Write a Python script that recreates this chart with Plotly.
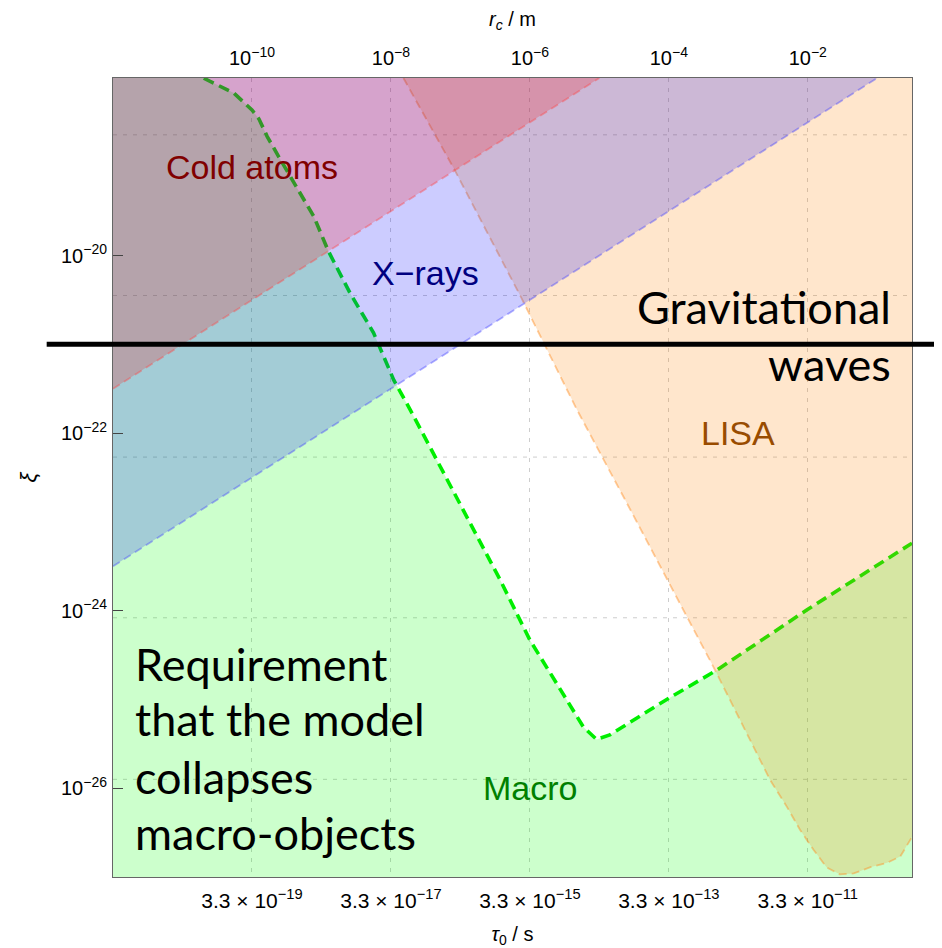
import math
import plotly.graph_objects as go

# ---------------- data (log10 values) ----------------
SPEED_OF_LIGHT = 2.998e8          # tau_0 = r_c / c

rc_tick_exp = [-10, -8, -6, -4, -2]
tau_tick_mantissa = "3.3"
tau_tick_exp = [-19, -17, -15, -13, -11]
xi_tick_exp = [-20, -22, -24, -26]

# Cold atoms bound (region above the line)
cold_log_rc = [-12.0, -5.0]
cold_log_xi = [-21.5, -18.0]

# X-ray bound (region above the line)
xray_log_rc = [-12.0, -1.0]
xray_log_xi = [-23.5, -18.0]

# LISA bound (region to the right of the curve)
lisa_log_rc = [-7.82, -7.10, -6.12, -5.32, -4.63, -3.36, -2.54, -2.30, -2.11,
               -1.92, -1.73, -1.54, -1.34, -1.10, -0.86, -0.67, -0.50]
lisa_log_xi = [-18.00, -19.01, -20.48, -21.74, -22.75, -24.63, -25.91, -26.21, -26.47,
               -26.69, -26.89, -26.97, -26.96, -26.89, -26.84, -26.77, -26.55]

# Macro requirement (region below the curve)
macro_log_rc = [-10.90, -10.70, -10.26, -10.00, -9.90, -9.78, -9.59, -9.40, -9.11,
                -8.90, -8.59, -8.25, -7.96, -7.72, -6.43, -6.00, -5.56, -5.23,
                -5.04, -4.85, -4.03, -3.31, -2.01, -0.50]
macro_log_xi = [-17.90, -18.00, -18.17, -18.36, -18.46, -18.66, -18.92, -19.18, -19.56,
                -19.95, -20.42, -20.87, -21.40, -21.74, -23.65, -24.33, -24.89, -25.31,
                -25.45, -25.40, -25.00, -24.67, -23.99, -23.24]

# Gravitational-wave bound
gw_log_xi = -21.0

region_names = ["Cold atoms", "X\u2212rays", "LISA", "Macro"]
region_label_log_rc = [-10.0, -7.5, -3.0, -6.0]
region_label_log_xi = [-19.0, -20.2, -22.0, -26.0]

# ---------------- helpers ----------------
RC_RANGE = [-12.0, -0.5]
XI_RANGE = [-27.0, -18.0]
LOG_C = math.log10(SPEED_OF_LIGHT)


def pw(vals, shift=0.0):
    return [10 ** (v - shift) for v in vals]


fig = go.Figure()


def add_region(line_rc, line_xi, extra_rc, extra_xi, fill, line_color, line_width, dash,
               xaxis="x", shift=0.0):
    fig.add_trace(go.Scatter(
        x=pw(line_rc + extra_rc, shift), y=pw(line_xi + extra_xi),
        mode="lines", fill="toself", fillcolor=fill,
        line=dict(width=0, color="rgba(0,0,0,0)"),
        hoverinfo="skip", xaxis=xaxis, yaxis="y"))
    fig.add_trace(go.Scatter(
        x=pw(line_rc, shift), y=pw(line_xi), mode="lines",
        line=dict(color=line_color, width=line_width, dash=dash),
        hoverinfo="skip", xaxis=xaxis, yaxis="y"))


# Macro (bottom layer)
add_region(macro_log_rc, macro_log_xi,
           [RC_RANGE[1], RC_RANGE[0], RC_RANGE[0]],
           [XI_RANGE[0], XI_RANGE[0], macro_log_xi[0]],
           "rgba(0,255,0,0.2)", "rgb(0,238,0)", 3.6, "11px,6px")
# LISA
add_region(lisa_log_rc, lisa_log_xi,
           [RC_RANGE[1]], [XI_RANGE[1]],
           "rgba(255,128,0,0.2)", "rgba(255,140,30,0.45)", 1.8, "8px,5px")
# X-rays
add_region(xray_log_rc, xray_log_xi,
           [RC_RANGE[0]], [XI_RANGE[1]],
           "rgba(0,0,255,0.2)", "rgba(70,70,255,0.42)", 1.8, "8px,5px")
# Cold atoms (top layer, drawn against the tau_0 axis: tau_0 = r_c / c)
add_region(cold_log_rc, cold_log_xi,
           [RC_RANGE[0]], [XI_RANGE[1]],
           "rgba(255,0,0,0.2)", "rgba(255,70,70,0.42)", 1.8, "8px,5px",
           xaxis="x2", shift=LOG_C)

label_colors = ["rgb(128,0,0)", "rgb(0,0,128)", "rgb(153,76,0)", "rgb(0,128,0)"]
annotations = []
for name, lx, ly, col in zip(region_names, region_label_log_rc, region_label_log_xi, label_colors):
    annotations.append(dict(x=lx, y=ly, xref="x", yref="y", text=name, showarrow=False,
                            font=dict(family="Liberation Sans, Arial, sans-serif", size=34, color=col),
                            xanchor="center", yanchor="middle"))

big_font = dict(family="Lato, Carlito, Calibri, sans-serif", size=45, color="black")
for txt, yy in [("Gravitational", 0.7130), ("waves", 0.6420)]:
    annotations.append(dict(x=0.9765, y=yy, xref="paper", yref="paper", text=txt, showarrow=False,
                            font=big_font, xanchor="right", yanchor="middle"))
for txt, yy in [("Requirement", 0.2665), ("that the model", 0.1977),
                ("collapses", 0.1247), ("macro-objects", 0.0545)]:
    annotations.append(dict(x=0.0245, y=yy, xref="paper", yref="paper", text=txt, showarrow=False,
                            font=big_font, xanchor="left", yanchor="middle"))

# dashed horizontal grid lines (style of the original frame grid)
grid_y_exp = [-18.64, -20.45, -22.27, -24.08, -25.90]
shapes = []
for g in grid_y_exp:
    shapes.append(dict(type="line", xref="paper", x0=0, x1=1, yref="y", y0=10 ** g, y1=10 ** g,
                       line=dict(color="rgb(205,205,205)", width=1, dash="4px,6px"), layer="below"))
# gravitational-wave bound line
shapes.append(dict(type="line", xref="paper", x0=-0.083, x1=1.04, yref="y",
                   y0=10 ** gw_log_xi, y1=10 ** gw_log_xi,
                   line=dict(color="black", width=5), layer="above"))

tick_font = dict(family="Liberation Sans, Arial, sans-serif", size=20, color="black")
tau_tick_font = dict(family="Liberation Sans, Arial, sans-serif", size=21, color="black")
title_font = dict(family="Liberation Sans, Arial, sans-serif", size=20, color="black")

fig.update_layout(
    width=934, height=940,
    margin=dict(l=105, r=30, t=70, b=71, autoexpand=False),
    paper_bgcolor="white", plot_bgcolor="white",
    showlegend=False,
    annotations=annotations,
    shapes=shapes,
    xaxis=dict(
        type="log", side="top", range=RC_RANGE, automargin=False,
        tickvals=[10 ** e for e in rc_tick_exp],
        ticktext=[f"10<sup>\u2212{-e}</sup>" for e in rc_tick_exp],
        tickfont=tick_font, ticks="", ticklabelstandoff=4,
        showgrid=True, gridcolor="rgb(205,205,205)", griddash="4px,6px", gridwidth=1,
        showline=True, linecolor="#666666", linewidth=1, mirror=True, zeroline=False,
        title=dict(text="<i>r</i><sub><i>c</i></sub> / m", font=title_font, standoff=12),
    ),
    xaxis2=dict(
        type="log", overlaying="x", side="bottom", anchor="y", automargin=False,
        range=[RC_RANGE[0] - LOG_C, RC_RANGE[1] - LOG_C],
        tickvals=[10 ** (e - LOG_C) for e in rc_tick_exp],
        ticktext=[f"{tau_tick_mantissa} \u00d7 10<sup>\u2212{-e}</sup>" for e in tau_tick_exp],
        tickfont=tau_tick_font, ticks="", ticklabelstandoff=9,
        showgrid=False, showline=False, zeroline=False,
        title=dict(text="<i>\u03c4</i><sub>0</sub> / s", font=title_font, standoff=15),
    ),
    yaxis=dict(
        type="log", range=XI_RANGE, automargin=False,
        tickvals=[10 ** e for e in xi_tick_exp],
        ticktext=[f"10<sup>\u2212{-e}</sup>" for e in xi_tick_exp],
        tickfont=tick_font, ticks="inside", ticklen=10, tickcolor="#444444", tickwidth=1,
        ticklabelstandoff=1,
        showgrid=False, showline=True, linecolor="#666666", linewidth=1, mirror=True,
        zeroline=False,
        title=dict(text="<i>\u03be</i>", font=dict(family="Liberation Sans, Arial, sans-serif",
                                                   size=22, color="black"), standoff=18),
    ),
)

fig.write_html("out.html")
